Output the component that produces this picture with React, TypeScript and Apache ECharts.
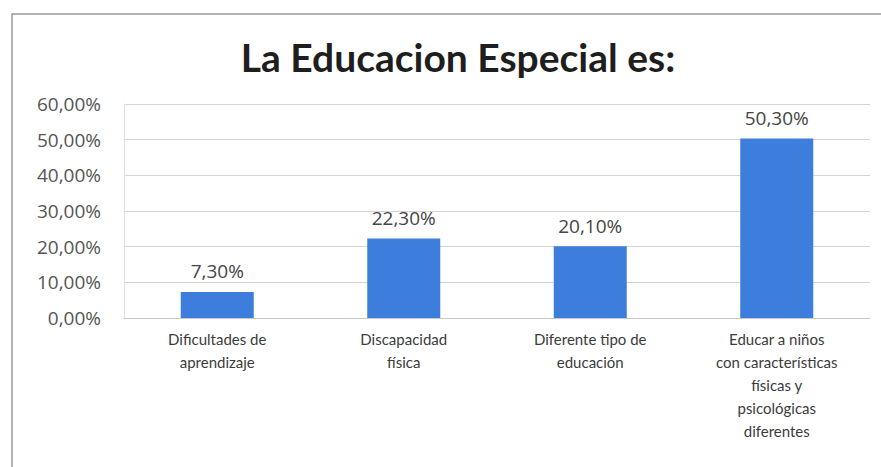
import React, { useEffect, useRef } from "react";
import * as echarts from "echarts";

const titleText = "La Educacion Especial es:";
const categories = [
  "Dificultades de\naprendizaje",
  "Discapacidad\nfísica",
  "Diferente tipo de\neducación",
  "Educar a niños\ncon características\nfísicas y\npsicológicas\ndiferentes",
];
const values = [7.3, 22.3, 20.1, 50.3];
const yMin = 0;
const yMax = 60;
const yStep = 10;

const fmt = (v: number) => v.toFixed(2).replace(".", ",") + "%";

export default function App() {
  const ref = useRef<HTMLDivElement>(null);
  useEffect(() => {
    document.body.style.margin = "0";
    const chart = echarts.init(ref.current!, null, { renderer: "svg" });
    const font = "Lato, 'Open Sans', sans-serif";
    const numFont = "'Open Sans', sans-serif";
    chart.setOption({
      animation: false,
      backgroundColor: "#ffffff",
      title: {
        text: titleText,
        left: 453,
        textAlign: "center",
        top: 32,
        textStyle: { fontFamily: font, fontWeight: "bold", fontSize: 39, color: "#1e1e1e" },
      },
      graphic: [
        {
          type: "rect",
          shape: { x: 12, y: 14, width: 900, height: 500 },
          style: { fill: "none", stroke: "#9a9a9a", lineWidth: 1.5 },
          silent: true,
        },
      ],
      grid: { left: 124, right: 11, top: 104, bottom: 149 },
      xAxis: {
        type: "category",
        data: categories,
        axisLine: { show: true, lineStyle: { color: "#c8c8c8", width: 1 } },
        axisTick: { show: false },
        axisLabel: {
          interval: 0,
          margin: 9,
          fontFamily: font,
          fontSize: 15,
          lineHeight: 23,
          color: "#3c3c3c",
        },
      },
      yAxis: {
        type: "value",
        min: yMin,
        max: yMax,
        interval: yStep,
        axisLine: { show: true, lineStyle: { color: "#e0e0e0" } },
        axisTick: { show: false },
        splitLine: { lineStyle: { color: "#d4d4d4", width: 1 } },
        axisLabel: {
          formatter: (v: number) => fmt(v),
          fontFamily: numFont,
          fontSize: 19,
          color: "#555555",
          margin: 23,
        },
      },
      series: [
        {
          type: "bar",
          data: values,
          barWidth: 73,
          itemStyle: { color: "#3d7edc" },
          label: {
            show: true,
            position: "top",
            distance: 11,
            formatter: (p: any) => fmt(p.value),
            fontFamily: numFont,
            fontSize: 19,
            color: "#454545",
          },
        },
      ],
    });
    return () => chart.dispose();
  }, []);
  return <div ref={ref} style={{ width: 881, height: 467 }} />;
}
